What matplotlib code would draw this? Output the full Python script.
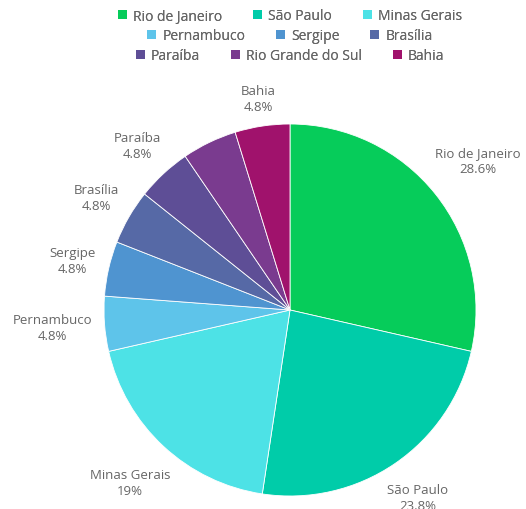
import numpy as np
import matplotlib
matplotlib.use("Agg")
import matplotlib.pyplot as plt
from matplotlib.patches import Patch

plt.rcParams['font.family'] = ['Open Sans', 'DejaVu Sans']

categories = ["Rio de Janeiro", "São Paulo", "Minas Gerais", "Pernambuco", "Sergipe",
              "Brasília", "Paraíba", "Rio Grande do Sul", "Bahia"]
values = [6, 5, 4, 1, 1, 1, 1, 1, 1]
pct_labels = ["28.6%", "23.8%", "19%", "4.8%", "4.8%", "4.8%", "4.8%", "", "4.8%"]
colors = ["#06cc5a", "#00cca9", "#4de2e6", "#5ec4ea", "#4f94d0", "#5669a6",
          "#5e4e96", "#7a3b8f", "#a0126c"]

W, H = 526, 510
fig = plt.figure(figsize=(W / 100, H / 100), dpi=100)
cx, cy, R = 290, 311, 186
ax = fig.add_axes([(cx - R) / W, (H - cy - R) / H, 2 * R / W, 2 * R / H])
ax.set_aspect('equal')
ax.axis('off')

wedges, _ = ax.pie(values, colors=colors, startangle=90, counterclock=False, radius=1.0,
                   wedgeprops=dict(linewidth=0.6, edgecolor='white'))
ax.set_xlim(-1, 1)
ax.set_ylim(-1, 1)

tcolor = "#666666"
fig.canvas.draw()
renderer = fig.canvas.get_renderer()
for w, name, pl in zip(wedges, categories, pct_labels):
    if not pl:
        continue
    ang = np.deg2rad((w.theta1 + w.theta2) / 2)
    c, s = np.cos(ang), np.sin(ang)
    t = ax.text(0, 0, f"{name}\n{pl}", ha='center', va='center', multialignment='center',
                fontsize=9.5, color=tcolor, linespacing=1.3, clip_on=False)
    bb = t.get_window_extent(renderer)
    hw, hh = bb.width / 2, bb.height / 2
    r = 1.06 + (hw * abs(c) + hh * abs(s)) / R
    t.set_position((r * c, r * s))

rows = [(0, 3), (3, 6), (6, 9)]
row_y = [17, 37, 57]
for (a, b), yy in zip(rows, row_y):
    handles = [Patch(facecolor=colors[i], edgecolor='none') for i in range(a, b)]
    leg = fig.legend(handles, categories[a:b], loc='center', bbox_to_anchor=(cx / W, 1 - yy / H),
                     ncol=3, frameon=False, fontsize=10, handlelength=0.65, handleheight=0.65,
                     handletextpad=0.45, columnspacing=2.2, borderpad=0, labelcolor=tcolor)
    fig.add_artist(leg)

fig.savefig("out.png", dpi=100, facecolor='white')
